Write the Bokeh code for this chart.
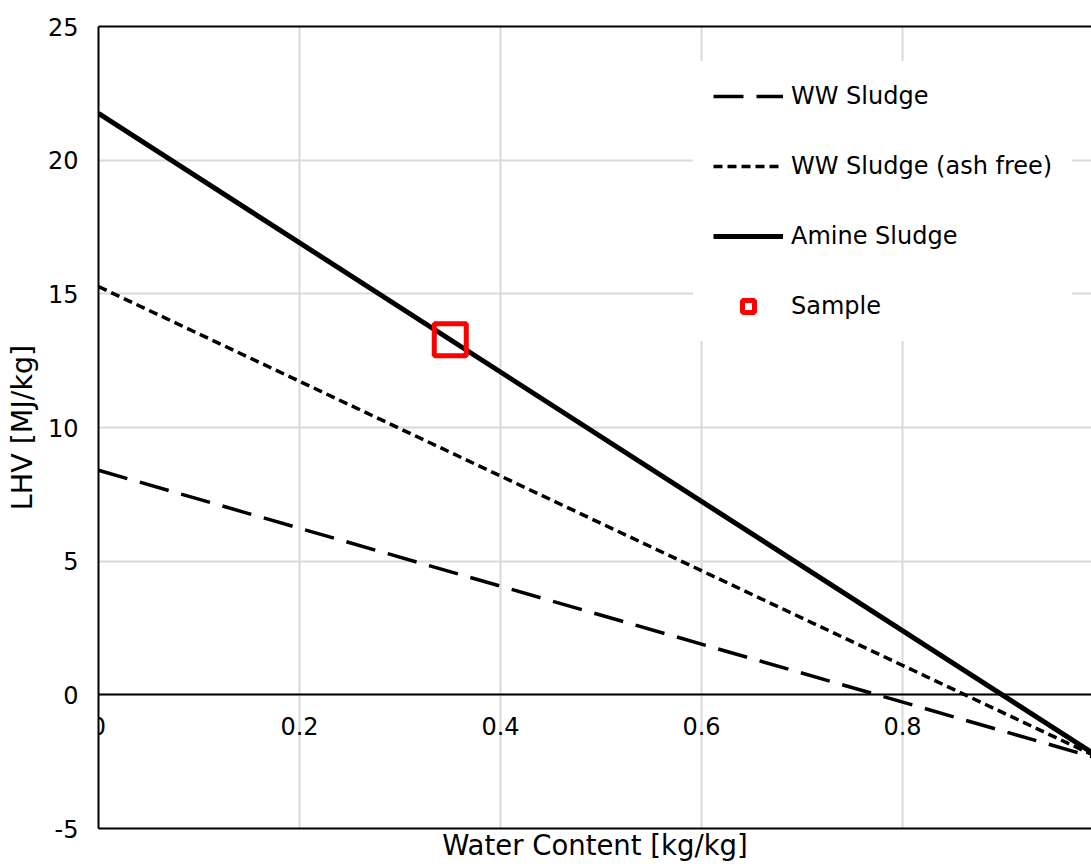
from bokeh.plotting import figure
from bokeh.models import Range1d, LinearAxis, FixedTicker, Grid, Legend, LegendItem
from bokeh.embed import file_html
from bokeh.resources import INLINE

# ---- data ----
water = [0.0, 1.0]
ww_sludge = [8.4, -2.44]
ww_sludge_ash_free = [15.27, -2.44]
amine_sludge = [21.75, -2.44]
sample_x = [0.35]
sample_y = [13.28]

x_ticks = [0, 0.2, 0.4, 0.6, 0.8]
x_tick_labels = ["0", "0.2", "0.4", "0.6", "0.8"]
y_ticks = [-5, 0, 5, 10, 15, 20, 25]
y_tick_labels = ["-5", "0", "5", "10", "15", "20", "25"]

FONT = "DejaVu Sans"
TICK_SIZE = "24px"
GRID = "#d9d9d9"

p = figure(width=1091, height=864,
           x_range=Range1d(0, 0.988), y_range=Range1d(-5, 25),
           output_backend="svg", toolbar_location=None, x_axis_type=None,
           min_border_left=98, min_border_top=26, min_border_right=0,
           min_border_bottom=36)
p.outline_line_color = None
p.background_fill_color = "white"
p.border_fill_color = "white"

# y axis
ya = p.yaxis[0]
ya.ticker = FixedTicker(ticks=y_ticks)
ya.major_label_overrides = {t: s for t, s in zip(y_ticks, y_tick_labels)}
ya.axis_line_color = "black"
ya.axis_line_width = 2
ya.major_tick_in = 0
ya.major_tick_out = 0
ya.minor_tick_in = 0
ya.minor_tick_out = 0
ya.major_label_standoff = 20
ya.major_label_text_font = FONT
ya.major_label_text_font_size = TICK_SIZE
ya.major_label_text_color = "black"
ya.axis_label = "LHV [MJ/kg]"
ya.axis_label_text_font = FONT
ya.axis_label_text_font_size = "28.5px"
ya.axis_label_text_font_style = "normal"
ya.axis_label_text_color = "black"
ya.axis_label_standoff = 6

p.ygrid.ticker = FixedTicker(ticks=y_ticks)
p.ygrid.grid_line_color = GRID
p.ygrid.grid_line_width = 2

# x grid
p.add_layout(Grid(dimension=0, ticker=FixedTicker(ticks=x_ticks),
                  grid_line_color=GRID, grid_line_width=2))

# x axis crossing at y = 0
xa = LinearAxis(fixed_location=0, ticker=FixedTicker(ticks=x_ticks),
                major_label_overrides={t: s for t, s in zip(x_ticks, x_tick_labels)},
                axis_line_color="black", axis_line_width=2,
                major_tick_in=0, major_tick_out=0, minor_tick_in=0, minor_tick_out=0,
                major_label_standoff=22,
                major_label_text_font=FONT, major_label_text_font_size=TICK_SIZE,
                major_label_text_color="black")
p.add_layout(xa, "below")

# bottom border + x title
xt = LinearAxis(ticker=FixedTicker(ticks=[]),
                axis_line_color="black", axis_line_width=2,
                major_tick_in=0, major_tick_out=0, minor_tick_in=0, minor_tick_out=0,
                major_label_standoff=0,
                axis_label="Water Content [kg/kg]",
                axis_label_text_font=FONT, axis_label_text_font_size="27.5px",
                axis_label_text_font_style="normal", axis_label_text_color="black",
                axis_label_standoff=0)
p.add_layout(xt, "below")

# top border
top = LinearAxis(ticker=FixedTicker(ticks=[]),
                 axis_line_color="black", axis_line_width=2,
                 major_tick_in=0, major_tick_out=0, minor_tick_in=0, minor_tick_out=0,
                 major_label_standoff=0)
p.add_layout(top, "above")

r1 = p.line(water, ww_sludge, line_color="black", line_width=3.5, line_dash="30 13")
r2 = p.line(water, ww_sludge_ash_free, line_color="black", line_width=3.5, line_dash="9 5")
r3 = p.line(water, amine_sludge, line_color="black", line_width=5)
r4 = p.scatter(sample_x, sample_y, marker="square", size=32, line_width=5,
               line_color="red", fill_color=None)

legend = Legend(items=[LegendItem(label="WW Sludge", renderers=[r1]),
                       LegendItem(label="WW Sludge (ash free)", renderers=[r2]),
                       LegendItem(label="Amine Sludge", renderers=[r3]),
                       LegendItem(label="Sample", renderers=[r4])],
                location=(595, 487), glyph_width=70, glyph_height=30,
                spacing=40, padding=6, label_standoff=8, margin=0,
                border_line_color="white", border_line_width=14,
                background_fill_color="white", background_fill_alpha=1.0,
                label_text_font=FONT, label_text_font_size=TICK_SIZE,
                label_text_color="black")
p.add_layout(legend)

open("out.html", "w").write(file_html(p, INLINE))
